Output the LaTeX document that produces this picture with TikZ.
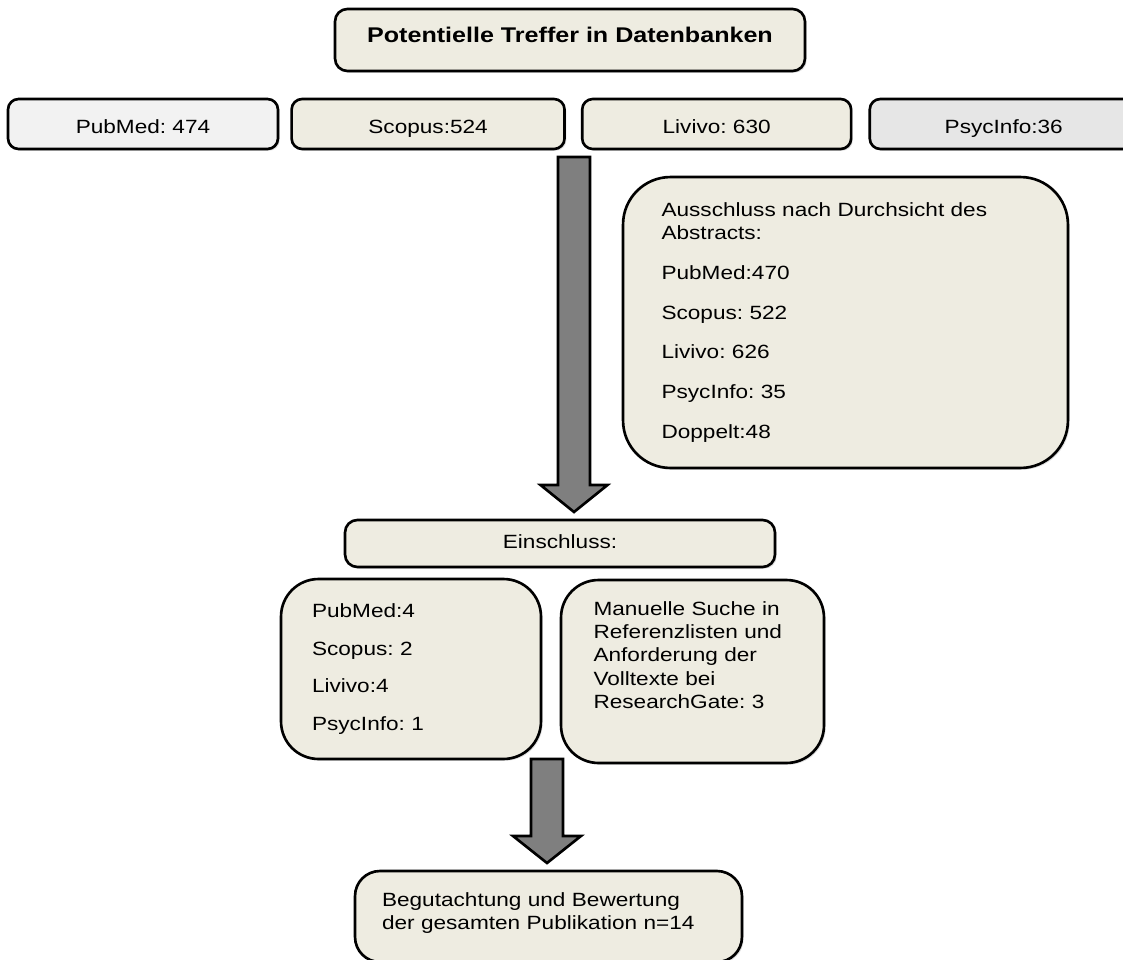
\documentclass[tikz,border=0pt]{standalone}
\usepackage{fontspec}
\setmainfont{Liberation Sans}[FakeStretch=1.18]
\usetikzlibrary{positioning, shadows}

\definecolor{boxtan}{HTML}{EEECE1}
\definecolor{pubgray}{HTML}{F2F2F2}
\definecolor{psycgray}{HTML}{E6E6E6}
\definecolor{arrowgray}{HTML}{7F7F7F}

\begin{document}
\frenchspacing
\begin{tikzpicture}[
    x=0.02cm, y=-0.02cm,
    box/.style={rectangle, draw=black, line width=1.5pt, rounded corners=6pt, fill=boxtan, align=center, inner sep=0pt, font=\fontsize{10.9}{13.3}\selectfont, drop shadow={shadow xshift=1pt, shadow yshift=-1pt, opacity=0.25}},
    titlebox/.style={box, rounded corners=7pt, text height=0.75em, text depth=0.5em, font=\fontsize{12.1}{14}\selectfont\bfseries},
    dbbox/.style={box, minimum height=1cm, text height=1.05em, text depth=0em},
    listbox/.style={box, align=left},
    fatarrow/.style n args={3}{draw=black, line width=1.5pt, fill=arrowgray,
        to path={([xshift=-#1]\tikztostart) -- ([xshift=-#1, yshift=#3]\tikztotarget) -- ([xshift=-#2, yshift=#3]\tikztotarget) -- (\tikztotarget) -- ([xshift=#2, yshift=#3]\tikztotarget) -- ([xshift=#1, yshift=#3]\tikztotarget) -- ([xshift=#1]\tikztostart) -- cycle}},
]
    \useasboundingbox (0,0) rectangle (1123,960);

    % Title
    \node[titlebox, minimum width=9.4cm, minimum height=1.24cm] (title) at (570,40) {Potentielle Treffer in Datenbanken};

    % Databases
    \node[dbbox, fill=pubgray, minimum width=5.4cm] (pubmed) at (143,124) {PubMed: 474};
    \node[dbbox, minimum width=5.46cm, right=0.22cm of pubmed] (scopus) {Scopus:524};
    \node[dbbox, minimum width=5.38cm, right=0.3cm of scopus] (livivo) {Livivo: 630};
    \node[dbbox, fill=psycgray, minimum width=5.36cm, right=0.32cm of livivo] (psycinfo) {PsycInfo:36};

    % Exclusion
    \node[listbox, rounded corners=0.95cm, minimum width=8.9cm, minimum height=5.82cm, text width=7.36cm] (ausschluss) at (845.5,322.5)
        {Ausschluss nach Durchsicht des\\Abstracts:\\[9.3pt]PubMed:470\\[9.3pt]Scopus: 522\\[9.3pt]Livivo: 626\\[9.3pt]PsycInfo: 35\\[9.3pt]Doppelt:48};

    % Inclusion
    \node[box, rounded corners=7pt, minimum width=8.6cm, minimum height=0.94cm, text height=0.75em, text depth=0.2em] (einschluss) at (560,543.5) {Einschluss:};
    \node[listbox, rounded corners=0.75cm, minimum width=5.2cm, minimum height=3.6cm, text width=3.96cm] (treffer) at (411,669)
        {PubMed:4\\[8.2pt]Scopus: 2\\[8.2pt]Livivo:4\\[8.2pt]PsycInfo: 1};
    \node[listbox, rounded corners=0.75cm, minimum width=5.26cm, minimum height=3.66cm, text width=3.96cm, inner ysep=0.3cm, text height=0.4cm, text depth=2.66cm] (manuell) at (692.5,671.5)
        {Manuelle Suche in\\Referenzlisten und\\Anforderung der\\Volltexte bei\\ResearchGate: 3};

    % Result
    \node[listbox, rounded corners=0.5cm, minimum width=7.74cm, minimum height=1.82cm, text width=6.66cm, inner ysep=0.3cm, text height=0.4cm, text depth=0.82cm] (bewertung) at (548.5,916.5)
        {Begutachtung und Bewertung\\der gesamten Publikation n=14};

    % Block arrows
    \coordinate (a1top) at (574,157);
    \coordinate (a1tip) at (574,512);
    \coordinate (a2top) at (547,759);
    \coordinate (a2tip) at (547,863);
    \draw[fatarrow={0.32cm}{0.67cm}{0.54cm}] (a1top) to (a1tip);
    \draw[fatarrow={0.32cm}{0.68cm}{0.54cm}] (a2top) to (a2tip);
\end{tikzpicture}
\end{document}
